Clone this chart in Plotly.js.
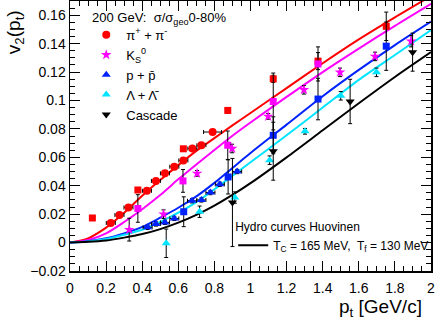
<!DOCTYPE html>
<html>
<head>
<meta charset="utf-8">
<script src="https://cdn.plot.ly/plotly-3.0.1.min.js"></script>
<style>
  body { margin: 0; }
  #plot { width: 436px; height: 324px; }
</style>
</head>
<body>
<div id="plot"></div>
<script>
// pi+ + pi- (circles and squares)
let piCircX = [0.226, 0.274, 0.324, 0.426, 0.476, 0.526, 0.578, 0.628, 0.678, 0.728, 0.79];
let piCircY = [0.0138, 0.0194, 0.0247, 0.0364, 0.0434, 0.0487, 0.0534, 0.0578, 0.0662, 0.0685, 0.0778];
let piCircEx = [0.025, 0.025, 0.025, 0.025, 0.025, 0.025, 0.025, 0.025, 0.025, 0.025, 0.05];
let piCircEy = [0.001, 0.001, 0.001, 0.001, 0.001, 0.001, 0.001, 0.001, 0.001, 0.001, 0.0015];
let piSqX = [0.124, 0.376, 0.628, 0.874, 1.126, 1.374, 1.752];
let piSqY = [0.0173, 0.037, 0.066, 0.093, 0.1152, 0.1277, 0.1522];
let piSqEy = [0.0015, 0.0015, 0.0015, 0.002, 0.0025, 0.006, 0.01];

// K0s (stars and squares)
let kStarX = [0.328, 0.518, 0.704, 0.898, 1.098, 1.296, 1.496, 1.69, 1.89];
let kStarY = [0.0091, 0.020, 0.0487, 0.0662, 0.0888, 0.1075, 0.1198, 0.131, 0.1417];
let kStarEy = [0.008, 0.003, 0.002, 0.003, 0.002, 0.003, 0.003, 0.003, 0.004];
let kSqX = [0.376, 0.626, 0.874, 1.126, 1.374];
let kSqY = [0.024, 0.0434, 0.0685, 0.0993, 0.1257];
let kSqEy = [0.0097, 0.008, 0.01, 0.02, 0.012];

// p + pbar (triangles and squares)
let pTriX = [0.43, 0.476, 0.526, 0.578, 0.676, 0.728, 0.778, 0.83, 0.926];
let pTriY = [0.0107, 0.0131, 0.0142, 0.017, 0.0294, 0.030, 0.0352, 0.041, 0.050];
let pSqX = [0.63, 0.876, 1.126, 1.374, 1.752];
let pSqY = [0.0217, 0.0462, 0.0755, 0.101, 0.1382];
let pSqEy = [0.0105, 0.012, 0.013, 0.0146, 0.017];

// Lambda + Lambdabar
let lamX = [0.533, 0.718, 0.913, 1.106, 1.302, 1.5, 1.698];
let lamY = [-0.0005, 0.0217, 0.0317, 0.058, 0.0783, 0.1033, 0.1198];
let lamEy = [0.01, 0.004, 0.004, 0.003, 0.002, 0.003, 0.003];

// Cascade
let xiX = [0.9, 1.126, 1.552, 1.898];
let xiY = [0.0282, 0.0643, 0.0993, 0.134];
let xiEy = [0.031, 0.0204, 0.0156, 0.0134];

// hydro curves (Huovinen)
let hydroPt = [0, 0.1, 0.2, 0.3, 0.4, 0.5, 0.6, 0.7, 0.8, 0.9, 1.0, 1.2, 1.4, 1.6, 1.8, 2.0];
let hydroPi = [0, 0.003, 0.0105, 0.021, 0.033, 0.044, 0.0545, 0.0645, 0.0735, 0.0825, 0.0912, 0.1087, 0.1262, 0.143, 0.1585, 0.1735];
let hydroK = [0, 0.0018, 0.0065, 0.0145, 0.0235, 0.0335, 0.0445, 0.0550, 0.0652, 0.0752, 0.0845, 0.1025, 0.120, 0.1365, 0.1525, 0.168];
let hydroP = [0, 0.001, 0.003, 0.0065, 0.011, 0.0175, 0.0245, 0.0325, 0.042, 0.0525, 0.063, 0.083, 0.103, 0.1215, 0.139, 0.1555];
let hydroLam = [0, 0.0008, 0.0025, 0.0055, 0.009, 0.0145, 0.021, 0.0285, 0.0375, 0.047, 0.0565, 0.0755, 0.095, 0.1145, 0.132, 0.1495];
let hydroXi = [0, 0.0005, 0.0015, 0.0035, 0.006, 0.0095, 0.014, 0.0195, 0.026, 0.0335, 0.0418, 0.060, 0.079, 0.098, 0.1165, 0.134];

let red = "#ff0000", mag = "#ff00ff", blue = "#0022ff", cyan = "#00e5ff", black = "#000000";

function curve(y, color, extra) {
    return Object.assign({
        x: hydroPt, y: y, mode: "lines", type: "scatter",
        line: {color: color, width: 2, shape: "spline", smoothing: 0.8},
        showlegend: false, hoverinfo: "skip"
    }, extra || {});
}

function errs(arr, w) {
    return {type: "data", array: arr, visible: true, color: "#000", thickness: 1, width: w};
}

function pts(x, y, ey, ex, color, symbol, size, name, show) {
    let t = {
        x: x, y: y, mode: "markers", type: "scatter",
        marker: {color: color, symbol: symbol, size: size},
        error_y: errs(ey, 2),
        name: name, showlegend: show
    };
    if (ex) t.error_x = errs(ex, 2);
    return t;
}

let data = [
    curve(hydroPi, red),
    curve(hydroK, mag),
    curve(hydroP, blue),
    curve(hydroLam, cyan),
    curve(hydroXi, black, {showlegend: true, legend: "legend2",
        name: "T<sub>C</sub> = 165 MeV,  T<sub>f</sub> = 130 MeV"}),
    pts(piSqX, piSqY, piSqEy, null, red, "square", 7, "pi sq", false),
    pts(kSqX, kSqY, kSqEy, null, mag, "square", 7, "k sq", false),
    pts(pSqX, pSqY, pSqEy, null, blue, "square", 7, "p sq", false),
    pts(piCircX, piCircY, piCircEy, piCircEx, red, "circle", 8, "π<sup>+</sup> + π<sup>-</sup>", true),
    pts(kStarX, kStarY, kStarEy, null, mag, "star", 8, "K<sub>S</sub><sup>0</sup>", true),
    pts(pTriX, pTriY, pTriX.map(() => 0.0015), pTriX.map(() => 0.025), blue, "triangle-up", 8, "p + p\u0304", true),
    pts(lamX, lamY, lamEy, null, cyan, "triangle-up", 8, "Λ + Λ\u0304", true),
    pts(xiX, xiY, xiEy, null, black, "triangle-down", 8, "Cascade", true)
];

let axisCommon = {
    showgrid: false, zeroline: false,
    showline: true, linecolor: "#000", linewidth: 1.5, mirror: "ticks",
    ticks: "inside", ticklen: 10, tickwidth: 1, tickcolor: "#000",
    tickfont: {size: 14, color: "#000"}
};

let layout = {
    width: 436, height: 324,
    margin: {l: 70, r: 5, t: 1, b: 53},
    paper_bgcolor: "#fff", plot_bgcolor: "#fff",
    font: {family: "Liberation Sans, Arial, sans-serif", color: "#000"},
    xaxis: Object.assign({}, axisCommon, {
        range: [0, 2], dtick: 0.2, tick0: 0, ticklabelstandoff: 4,
        minor: {dtick: 0.05, ticks: "inside", ticklen: 5, tickcolor: "#000", showgrid: false}
    }),
    yaxis: Object.assign({}, axisCommon, {
        range: [-0.02, 0.17], dtick: 0.02, tick0: 0,
        minor: {dtick: 0.005, ticks: "inside", ticklen: 5, tickcolor: "#000", showgrid: false}
    }),
    legend: {
        x: 0.045, y: 0.93, xanchor: "left", yanchor: "top",
        bgcolor: "rgba(0,0,0,0)", font: {size: 13},
        traceorder: "normal", itemwidth: 30, tracegroupgap: 0
    },
    legend2: {
        x: 0.452, y: 0.207, xanchor: "left", yanchor: "top",
        bgcolor: "rgba(0,0,0,0)", font: {size: 12},
        title: {text: "Hydro curves Huovinen", font: {size: 12}},
        itemwidth: 30
    },
    annotations: [
        {xref: "paper", yref: "paper", x: 0.055, y: 0.935, xanchor: "left", yanchor: "middle",
         text: "200 GeV:  σ/σ<sub>geo</sub>0-80%", showarrow: false, font: {size: 13}},
        {xref: "paper", yref: "paper", x: -0.152, y: 0.885, xanchor: "center", yanchor: "middle",
         text: "v<sub>2</sub>(p<sub>t</sub>)", textangle: -90, showarrow: false, font: {size: 19}},
        {xref: "paper", yref: "paper", x: 0.98, y: -0.137, xanchor: "right", yanchor: "middle",
         text: "p<sub>t</sub> [GeV/c]", showarrow: false, font: {size: 19}}
    ]
};

Plotly.newPlot("plot", data, layout, {staticPlot: true});
</script>
</body>
</html>
